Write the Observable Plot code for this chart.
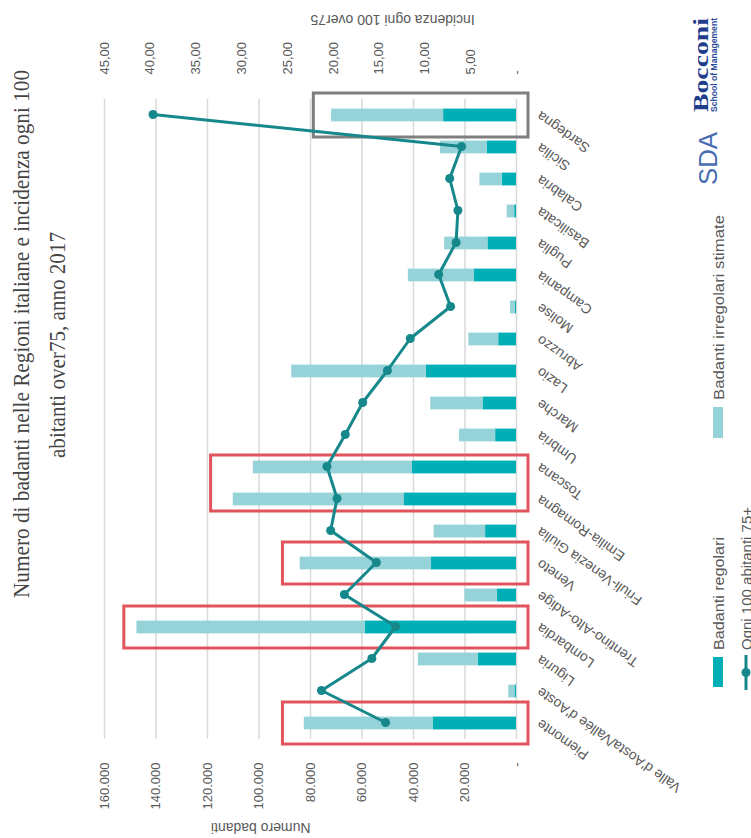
<!DOCTYPE html>
<html><head><meta charset="utf-8">
<script src="https://cdn.jsdelivr.net/npm/d3@7"></script>
<script src="https://cdn.jsdelivr.net/npm/@observablehq/plot@0.6"></script>
<style>
html,body{margin:0;padding:0;background:#fff;}
body{width:751px;height:838px;overflow:hidden;position:relative;}
#rot{position:absolute;left:0;top:0;width:838px;height:751px;transform-origin:0 0;transform:translate(0px,838px) rotate(-90deg);background:#fff;overflow:visible;}
#chart,#overlay{position:absolute;left:0;top:0;}
</style></head><body>
<div id="rot"><div id="chart"></div><svg id="overlay" width="838" height="790"></svg></div>
<script>
// ---- data ----
const regions = ["Piemonte","Valle d'Aosta/Vallée d'Aoste","Liguria","Lombardia","Trentino-Alto-Adige","Veneto","Friuli-Venezia Giulia","Emilia-Romagna","Toscana","Umbria","Marche","Lazio","Abruzzo","Molise","Campania","Puglia","Basilicata","Calabria","Sicilia","Sardegna"];
const regolari   = [32400, 600, 14900, 58800, 7500, 33000, 12000, 43700, 40400, 8100, 13000, 35000, 6900, 500, 16300, 11100, 700, 5500, 11400, 28300];
const irregolari = [50000, 2400, 23200, 88600, 12500, 51000, 20000, 66300, 61800, 14000, 20300, 52300, 11600, 1800, 25700, 16800, 2900, 8700, 18100, 43500];
const incidenza  = [14.3, 21.3, 15.8, 13.2, 18.8, 15.3, 20.3, 19.6, 20.7, 18.7, 16.8, 14.1, 11.6, 7.2, 8.5, 6.6, 6.4, 7.3, 6.0, 39.7];
const numTicks = [0, 20000, 40000, 60000, 80000, 100000, 120000, 140000, 160000];
const incTicks = [0, 5, 10, 15, 20, 25, 30, 35, 40, 45];
// highlight boxes
const boxFrom = ["Piemonte", "Veneto", "Lombardia", "Emilia-Romagna", "Sardegna"];
const boxTo   = ["Piemonte", "Veneto", "Lombardia", "Toscana", "Sardegna"];
const boxTop  = [90700, 90700, 152300, 118600, 78700];
const boxKind = ["wide", "wide", "wide", "tight", "grey"];

// ---- build ----
const W = 838, H = 751;
const K = 160000 / 45;
const rows = regions.map((name, i) => ({i, name, reg: regolari[i], irr: irregolari[i], inc: incidenza[i]}));
const boxes = boxFrom.map((f, j) => ({i0: regions.indexOf(f), i1: regions.indexOf(boxTo[j]), top: boxTop[j], kind: boxKind[j]}));
const loc = d3.formatLocale({decimal: ",", thousands: ".", grouping: [3], currency: ["€", ""]});
const fNum = loc.format(",");
const fInc = loc.format(",.2f");
const gray = "#595959";
const cDark = "#00AEB6", cLight = "#95D3D8", cLine = "#16888B";
const half = 0.2;

const chart = Plot.plot({
  width: W, height: H,
  marginTop: 104, marginBottom: 235, marginLeft: 99, marginRight: 99,
  style: {fontFamily: "'Liberation Sans', Arial, sans-serif", fontSize: "13px", color: gray, background: "transparent"},
  x: {type: "linear", domain: [-0.5, 19.5], axis: null},
  y: {domain: [0, 160000], axis: null},
  marks: [
    Plot.gridY(numTicks, {stroke: "#d9d9d9", strokeOpacity: 1, strokeWidth: 1.5}),
    Plot.rect(rows, {x1: d => d.i - half, x2: d => d.i + half, y1: () => 0, y2: d => d.reg, fill: cDark}),
    Plot.rect(rows, {x1: d => d.i - half, x2: d => d.i + half, y1: d => d.reg, y2: d => d.reg + d.irr, fill: cLight}),
    Plot.rect(boxes.filter(b => b.kind === "wide"), {x1: d => d.i0 - 0.5, x2: d => d.i1 + 0.5, y1: () => 0, y2: d => d.top, fill: "none", stroke: "#E2545C", strokeWidth: 3, insetLeft: -5, insetRight: -5, insetBottom: -12}),
    Plot.rect(boxes.filter(b => b.kind === "tight"), {x1: d => d.i0 - 0.5, x2: d => d.i1 + 0.5, y1: () => 0, y2: d => d.top, fill: "none", stroke: "#E2545C", strokeWidth: 3, insetLeft: 4, insetRight: 4, insetBottom: -12}),
    Plot.rect(boxes.filter(b => b.kind === "grey"), {x1: d => d.i0 - 0.5, x2: d => d.i1 + 0.5, y1: () => 0, y2: d => d.top, fill: "none", stroke: "#7f7f7f", strokeWidth: 3, insetLeft: -6, insetRight: -6, insetBottom: -12}),
    Plot.line(rows, {x: "i", y: d => d.inc * K, stroke: cLine, strokeWidth: 3}),
    Plot.dot(rows, {x: "i", y: d => d.inc * K, r: 4.5, fill: cLine}),
    Plot.axisY(numTicks, {anchor: "left", tickSize: 0, tickPadding: 24, label: null, fontSize: 13, tickFormat: d => d === 0 ? "-" : fNum(d)}),
    Plot.axisY(incTicks.map(v => v * K), {anchor: "right", tickSize: 0, tickPadding: 24, label: null, fontSize: 13, tickFormat: d => d === 0 ? "-" : fInc(d / K)}),
    Plot.text(["Numero badanti"], {frameAnchor: "left", dx: -89, rotate: -90, fontSize: 14, fill: gray}),
    Plot.text(["Incidenza ogni 100 over75"], {frameAnchor: "right", dx: 79, rotate: -90, fontSize: 14, fill: gray}),
    Plot.text(rows, {x: "i", y: () => 0, text: "name", rotate: -55, textAnchor: "end", lineAnchor: "middle", dy: 22, fontSize: 14, fill: gray})
  ]
});
document.getElementById("chart").appendChild(chart);

// ---- title, legend, logo ----
const ov = d3.select("#overlay");
const title1 = "Numero di badanti nelle Regioni italiane e incidenza ogni 100";
const title2 = "abitanti over75, anno 2017";
ov.append("text").attr("x", 240).attr("y", 29).attr("textLength", 528).attr("lengthAdjust", "spacingAndGlyphs")
  .style("font", "24px 'Liberation Serif', serif").attr("fill", "#444").text(title1);
ov.append("text").attr("x", 380).attr("y", 65).attr("textLength", 226).attr("lengthAdjust", "spacingAndGlyphs")
  .style("font", "24px 'Liberation Serif', serif").attr("fill", "#444").text(title2);

const legFont = "15px 'Liberation Sans Narrow', 'Liberation Sans', sans-serif";
ov.append("rect").attr("x", 151).attr("y", 713).attr("width", 30).attr("height", 10).attr("fill", cDark);
ov.append("text").attr("x", 188).attr("y", 724).attr("textLength", 113).attr("lengthAdjust", "spacingAndGlyphs").style("font", legFont).attr("fill", gray).text("Badanti regolari");
ov.append("rect").attr("x", 400).attr("y", 713).attr("width", 31).attr("height", 10).attr("fill", cLight);
ov.append("text").attr("x", 438).attr("y", 724).attr("textLength", 185).attr("lengthAdjust", "spacingAndGlyphs").style("font", legFont).attr("fill", gray).text("Badanti irregolari stimate");
ov.append("line").attr("x1", 148).attr("x2", 183).attr("y1", 746).attr("y2", 746).attr("stroke", cLine).attr("stroke-width", 3);
ov.append("circle").attr("cx", 165.5).attr("cy", 746).attr("r", 4.5).attr("fill", cLine);
ov.append("text").attr("x", 188).attr("y", 752).style("font", legFont).attr("fill", gray).text("Ogni 100 abitanti 75+");

ov.append("text").attr("x", 653).attr("y", 717).attr("textLength", 53).attr("lengthAdjust", "spacingAndGlyphs")
  .style("font", "300 26px 'Liberation Sans', sans-serif").attr("fill", "#4a6cb3").text("SDA");
ov.append("text").attr("x", 726).attr("y", 708).attr("textLength", 94).attr("lengthAdjust", "spacingAndGlyphs")
  .style("font", "bold 21px 'Liberation Serif', serif").attr("fill", "#1f3d8c").text("Bocconi");
ov.append("text").attr("x", 726).attr("y", 717).attr("textLength", 94).attr("lengthAdjust", "spacingAndGlyphs")
  .style("font", "bold 8.5px 'Liberation Sans', sans-serif").attr("fill", "#2c4d9c").text("School of Management");
</script>
</body></html>
